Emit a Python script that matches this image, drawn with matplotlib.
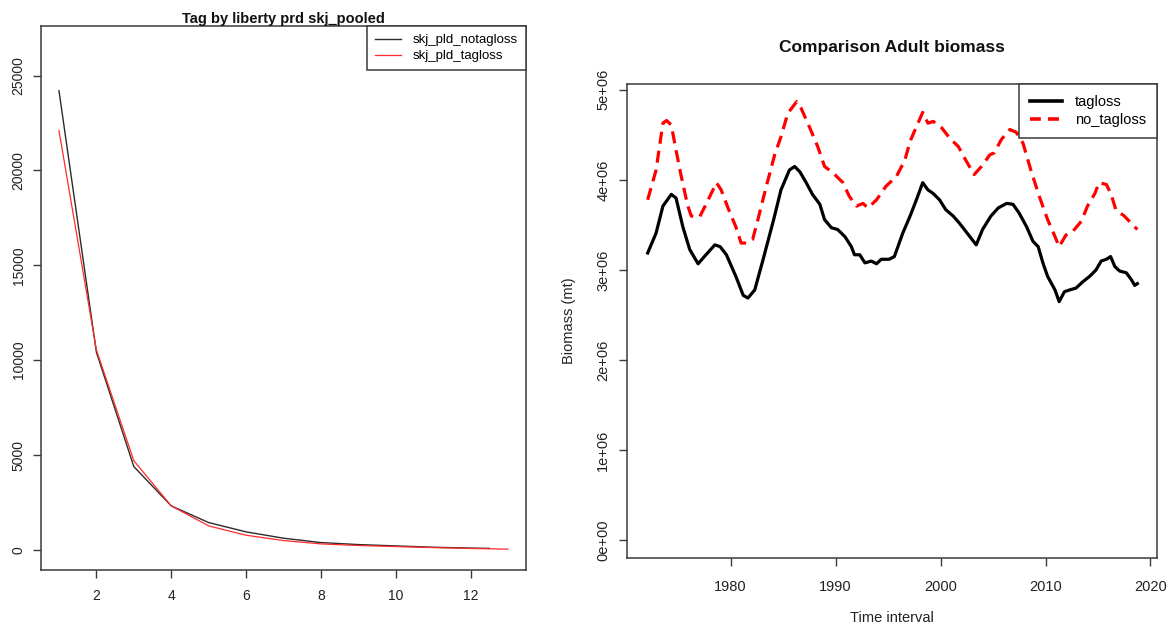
import matplotlib
matplotlib.use("Agg")
import matplotlib.pyplot as plt
from matplotlib.lines import Line2D

plt.rcParams['font.family'] = ['Liberation Sans', 'DejaVu Sans']

# ---------------- Left panel data ----------------
notag_x = [1, 2, 3, 4, 5, 6, 7, 8, 9, 10, 11, 12, 12.5]
notag_y = [24200, 10420, 4390, 2320, 1440, 950, 615, 386, 280, 210, 140, 95, 80]
tag_x = [1, 2, 3, 4, 5, 6, 7, 8, 9, 10, 11, 12, 13]
tag_y = [22100, 10540, 4700, 2320, 1265, 772, 491, 316, 230, 175, 120, 75, 40]
left_xticks = [2, 4, 6, 8, 10, 12]
left_yticks = [0, 5000, 10000, 15000, 20000, 25000]

# ---------------- Right panel data ----------------
tagloss_year = [1972.1, 1972.9, 1973.55, 1974.35, 1974.8, 1975.45, 1976.1, 1976.9, 1977.5,
                1978.5, 1979.0, 1979.6, 1980.5, 1981.2, 1981.65, 1982.3, 1983.1, 1984.1,
                1984.8, 1985.6, 1986.1, 1986.6, 1987.2, 1987.8, 1988.5, 1988.95, 1989.6,
                1990.2, 1990.9, 1991.5, 1991.8, 1992.3, 1992.8, 1993.4, 1993.9, 1994.35,
                1995.1, 1995.6, 1996.4, 1997.1, 1997.7, 1998.3, 1998.8, 1999.3, 1999.9,
                2000.5, 2001.2, 2001.8, 2002.4, 2003.4, 2004.0, 2004.8, 2005.5, 2006.3,
                2006.9, 2007.5, 2008.2, 2008.8, 2009.3, 2009.75, 2010.2, 2010.9, 2011.3,
                2011.8, 2012.3, 2012.9, 2013.55, 2014.2, 2014.8, 2015.3, 2015.8, 2016.2,
                2016.6, 2017.05, 2017.7, 2018.2, 2018.5, 2018.75]
tagloss_val = [3.19, 3.41, 3.71, 3.84, 3.80, 3.48, 3.23, 3.07, 3.15,
               3.28, 3.26, 3.17, 2.93, 2.72, 2.69, 2.78, 3.12, 3.56,
               3.89, 4.11, 4.15, 4.09, 3.97, 3.84, 3.73, 3.56, 3.47,
               3.45, 3.37, 3.26, 3.17, 3.17, 3.08, 3.10, 3.07, 3.12,
               3.12, 3.15, 3.41, 3.60, 3.78, 3.97, 3.89, 3.85, 3.78,
               3.67, 3.60, 3.52, 3.43, 3.28, 3.45, 3.60, 3.69, 3.74,
               3.73, 3.63, 3.48, 3.32, 3.26, 3.08, 2.93, 2.78, 2.65,
               2.76, 2.78, 2.80, 2.87, 2.93, 3.00, 3.10, 3.12, 3.15,
               3.04, 2.99, 2.97, 2.89, 2.83, 2.85]

notagloss_year = [1972.1, 1972.9, 1973.55, 1973.9, 1974.35, 1974.8, 1975.3, 1975.9, 1976.25,
                  1977.05, 1977.7, 1978.65, 1979.1, 1979.75, 1980.5, 1981.0, 1981.5, 1982.1,
                  1982.6, 1983.4, 1984.2, 1984.8, 1985.45, 1986.3, 1986.7, 1987.5, 1988.3,
                  1988.95, 1989.75, 1990.7, 1991.3, 1992.0, 1992.6, 1993.1, 1993.9, 1994.8,
                  1995.8, 1996.6, 1997.1, 1997.7, 1998.3, 1998.8, 1999.3, 2000.1, 2000.9,
                  2001.7, 2002.4, 2003.2, 2003.9, 2004.7, 2005.1, 2005.8, 2006.6, 2007.2,
                  2007.85, 2008.6, 2009.4, 2010.2, 2010.8, 2011.3, 2011.95, 2012.6, 2013.4,
                  2014.0, 2014.7, 2015.1, 2015.8, 2016.25, 2016.7, 2017.5, 2018.0, 2018.5,
                  2018.75]
notagloss_val = [3.78, 4.11, 4.63, 4.66, 4.61, 4.33, 4.04, 3.72, 3.60,
                 3.59, 3.74, 3.97, 3.89, 3.69, 3.48, 3.30, 3.30, 3.34,
                 3.56, 3.93, 4.28, 4.48, 4.74, 4.87, 4.80, 4.59, 4.37,
                 4.15, 4.08, 3.97, 3.82, 3.71, 3.74, 3.69, 3.78, 3.93,
                 4.04, 4.22, 4.43, 4.59, 4.75, 4.63, 4.65, 4.58, 4.46,
                 4.37, 4.22, 4.06, 4.15, 4.28, 4.30, 4.45, 4.56, 4.53,
                 4.41, 4.11, 3.82, 3.56, 3.40, 3.26, 3.39, 3.43, 3.54,
                 3.71, 3.85, 3.97, 3.95, 3.84, 3.67, 3.60, 3.54, 3.48,
                 3.45]
right_xticks = [1980, 1990, 2000, 2010, 2020]
right_yticks = [0, 1, 2, 3, 4, 5]
right_yticklabels = ["0e+00", "1e+06", "2e+06", "3e+06", "4e+06", "5e+06"]

W, H = 1174, 633
fig = plt.figure(figsize=(W / 100, H / 100), dpi=100)
spine_col = '#3a3a3a'

def px_axes(l, t, r, b):
    return fig.add_axes([l / W, 1 - b / H, (r - l) / W, (b - t) / H])

def style(ax, fs):
    for s in ax.spines.values():
        s.set_color(spine_col)
        s.set_linewidth(1.1)
    ax.tick_params(direction='out', length=6, width=1, color=spine_col,
                   labelsize=fs, labelcolor='#222222')

# ---------------- Left ----------------
axL = px_axes(41, 26, 526, 570)
axL.plot(notag_x, notag_y, color='#2b2b2b', lw=1.0)
axL.plot(tag_x, tag_y, color='#ff2a2a', lw=0.9)
axL.set_xlim(0.52, 13.48)
axL.set_ylim(-1060, 27610)
axL.set_xticks(left_xticks)
axL.set_yticks(left_yticks)
style(axL, 10)
axL.tick_params(axis='x', pad=8)
axL.tick_params(axis='y', pad=5)
for lab in axL.get_yticklabels():
    lab.set_rotation(90)
    lab.set_va('center')
axL.set_title("Tag by liberty prd skj_pooled", fontsize=10.5, fontweight='bold',
              pad=-1, color='#111111')
legL = axL.legend(handles=[Line2D([], [], color='#2b2b2b', lw=1.0),
                           Line2D([], [], color='#ff2a2a', lw=0.9)],
                  labels=["skj_pld_notagloss", "skj_pld_tagloss"],
                  loc='upper right', bbox_to_anchor=(1.0, 1.0), fontsize=9.5,
                  frameon=True, fancybox=False, borderaxespad=0,
                  handlelength=2.0, handletextpad=0.9, borderpad=0.6,
                  labelspacing=0.3)
legL.get_frame().set_edgecolor(spine_col)
legL.get_frame().set_linewidth(1.1)
legL.get_frame().set_alpha(1)

# ---------------- Right ----------------
axR = px_axes(627, 84, 1157, 558)
axR.plot(tagloss_year, tagloss_val, color='black', lw=2.3, solid_joinstyle='round')
axR.plot(notagloss_year, notagloss_val, color='#ff0000', lw=2.3, dashes=(3.8, 2.2))
axR.set_xlim(1970.13, 2020.62)
axR.set_ylim(-0.195, 5.065)
axR.set_xticks(right_xticks)
axR.set_yticks(right_yticks)
axR.set_yticklabels(right_yticklabels)
style(axR, 10.5)
axR.tick_params(axis='x', pad=10)
axR.tick_params(axis='y', pad=6)
for lab in axR.get_yticklabels():
    lab.set_rotation(90)
    lab.set_va('center')
axR.set_title("Comparison Adult biomass", fontsize=12.5, fontweight='bold',
              pad=23, color='#111111')
axR.set_xlabel("Time interval", fontsize=10.5, labelpad=12, color='#222222')
axR.set_ylabel("Biomass (mt)", fontsize=10.5, labelpad=15, color='#222222')
legR = axR.legend(handles=[Line2D([], [], color='black', lw=2.6),
                           Line2D([], [], color='#ff0000', lw=2.6, dashes=(3.0, 2.0))],
                  labels=["tagloss", "no_tagloss"],
                  loc='upper right', bbox_to_anchor=(1.0, 1.0), fontsize=10.5,
                  frameon=True, fancybox=False, borderaxespad=0,
                  handlelength=2.2, handletextpad=0.9, borderpad=0.75,
                  labelspacing=0.3)
legR.get_frame().set_edgecolor(spine_col)
legR.get_frame().set_linewidth(1.1)
legR.get_frame().set_alpha(1)

fig.savefig("out.png", dpi=100)
